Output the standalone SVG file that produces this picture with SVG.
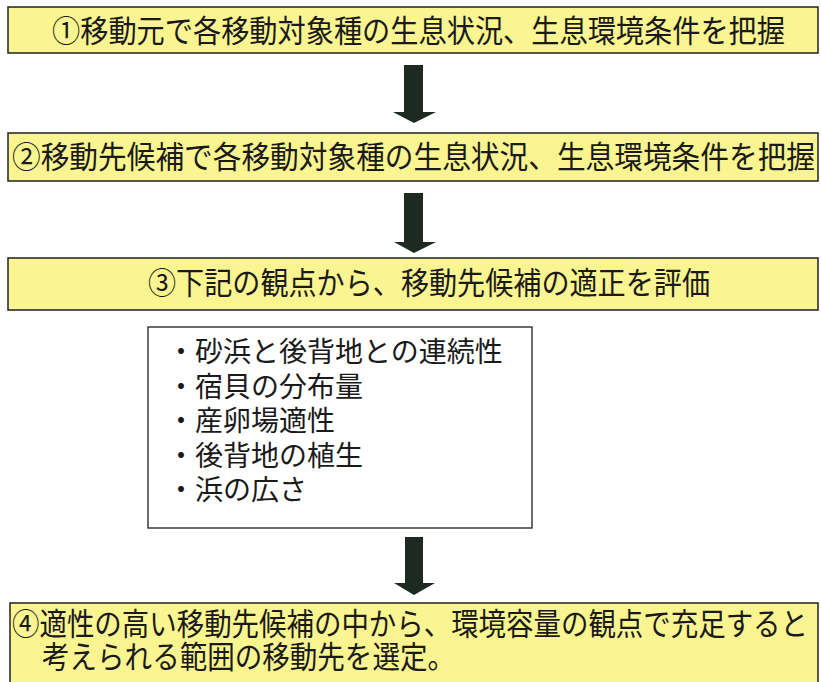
<svg xmlns="http://www.w3.org/2000/svg" width="821" height="682" viewBox="0 0 821 682">
<style>
.step{fill:#faf590;stroke:#2e2e2e;stroke-width:1.6}
.list{fill:#ffffff;stroke:#2e2e2e;stroke-width:1.4}
.t{font-family:"Noto Sans CJK JP","Noto Sans CJK SC",sans-serif;font-size:31px;fill:#1a1a1a}
.li{font-family:"Noto Sans CJK JP","Noto Sans CJK SC",sans-serif;font-size:28px;fill:#1a1a1a}
.arrow{fill:#1d2a21}
</style>
<rect width="821" height="682" fill="#ffffff"/>
<g id="step1">
<rect class="step" x="8" y="7" width="810" height="46"/>
<text class="t" x="52" y="42" textLength="733" lengthAdjust="spacingAndGlyphs">①移動元で各移動対象種の生息状況、生息環境条件を把握</text>
</g>
<g id="step2">
<rect class="step" x="8" y="133" width="810" height="48"/>
<text class="t" x="12" y="168" textLength="803" lengthAdjust="spacingAndGlyphs">②移動先候補で各移動対象種の生息状況、生息環境条件を把握</text>
</g>
<g id="step3">
<rect class="step" x="8" y="258" width="810" height="52"/>
<text class="t" x="148" y="294" textLength="562" lengthAdjust="spacingAndGlyphs">③下記の観点から、移動先候補の適正を評価</text>
</g>
<g id="criteria">
<rect class="list" x="148" y="327" width="384" height="201"/>
<text class="li" x="167" y="362">・砂浜と後背地との連続性</text>
<text class="li" x="167" y="396.5">・宿貝の分布量</text>
<text class="li" x="167" y="431">・産卵場適性</text>
<text class="li" x="167" y="465.5">・後背地の植生</text>
<text class="li" x="167" y="500">・浜の広さ</text>
</g>
<g id="step4">
<rect class="step" x="10" y="603" width="808" height="90"/>
<text class="t" x="12" y="635" textLength="796" lengthAdjust="spacingAndGlyphs">④適性の高い移動先候補の中から、環境容量の観点で充足すると</text>
<text class="t" x="42" y="668" textLength="413" lengthAdjust="spacingAndGlyphs">考えられる範囲の移動先を選定。</text>
</g>
<g id="connectors">
<polygon class="arrow" points="404,65 423,65 423,112 436,112 414,123 393,112 404,112"/>
<polygon class="arrow" points="404,193 423,193 423,242 436,242 414,253 394,242 404,242"/>
<polygon class="arrow" points="405,537 423,537 423,583 435,583 414,595 394,583 405,583"/>
</g>
</svg>
